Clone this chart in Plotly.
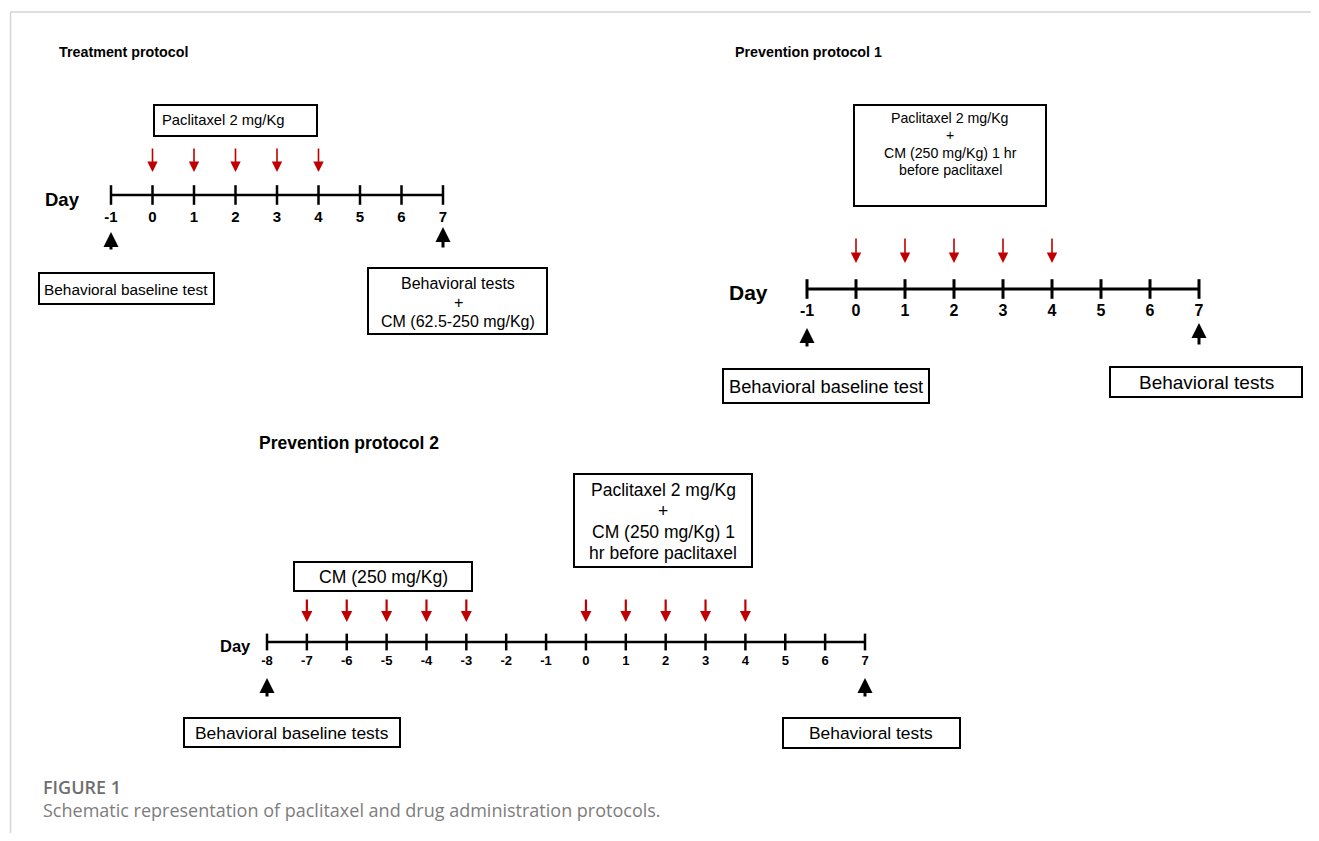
import plotly.graph_objects as go

# page is 1319x841; the html body has an 8px margin, so the figure sits at (8, 8)
PAGE_W, PAGE_H = 1319, 841
OFF = 8
FW, FH = PAGE_W - 2 * OFF, PAGE_H - 2 * OFF

# ---------------- data ----------------
treat_days = [-1, 0, 1, 2, 3, 4, 5, 6, 7]
treat_paclitaxel_days = [0, 1, 2, 3, 4]
treat_test_days = [-1, 7]

prev1_days = [-1, 0, 1, 2, 3, 4, 5, 6, 7]
prev1_paclitaxel_days = [0, 1, 2, 3, 4]
prev1_test_days = [-1, 7]

prev2_days = [-8, -7, -6, -5, -4, -3, -2, -1, 0, 1, 2, 3, 4, 5, 6, 7]
prev2_cm_days = [-7, -6, -5, -4, -3]
prev2_paclitaxel_days = [0, 1, 2, 3, 4]
prev2_test_days = [-8, 7]

titles = ["Treatment protocol", "Prevention protocol 1", "Prevention protocol 2"]
caption_head = "FIGURE 1"
caption_text = "Schematic representation of paclitaxel and drug administration protocols."

FONT = "Liberation Sans, Arial, sans-serif"
RED = "#c00000"

fig = go.Figure()

# panel layout (page-pixel positions of first/last day, timeline row etc.)
panels = [
    dict(ax="x2", days=treat_days, doses=[treat_paclitaxel_days], tests=treat_test_days,
         x0=111, x1=443, ly=195, tick=14, lw=2.5, lab_y=218, lab_size=15,
         red=(147, 172), red_w=1.6, red_s=1.3, up=[(232, 251), (227, 249)], up_w=3,
         day=(43, 199, 18.5)),
    dict(ax="x3", days=prev1_days, doses=[prev1_paclitaxel_days], tests=prev1_test_days,
         x0=807, x1=1199, ly=289, tick=14, lw=3, lab_y=312, lab_size=16,
         red=(237, 263), red_w=1.6, red_s=1.3, up=[(328, 348), (323, 346)], up_w=3,
         day=(727, 292, 21)),
    dict(ax="x4", days=prev2_days, doses=[prev2_cm_days, prev2_paclitaxel_days], tests=prev2_test_days,
         x0=267, x1=865, ly=642, tick=12, lw=2.5, lab_y=662, lab_size=13,
         red=(598, 622), red_w=2.2, red_s=1.0, up=[(678, 698), (678, 698)], up_w=3,
         day=(218, 646, 16.5)),
]

annotations = []
shapes = []
layout_axes = {}

for p in panels:
    days = p["days"]
    s = (p["x1"] - p["x0"]) / (days[-1] - days[0])
    rng = [days[0] - (p["x0"] - OFF) / s, days[0] + (OFF + FW - p["x0"]) / s]
    num = p["ax"][1:]
    layout_axes["xaxis" + num] = dict(range=rng, domain=[0, 1], overlaying="x", anchor="y",
                                      visible=False, fixedrange=True)
    # timeline
    fig.add_trace(go.Scatter(x=[days[0], days[-1]], y=[p["ly"], p["ly"]], xaxis=p["ax"], yaxis="y",
                             mode="lines", line=dict(color="black", width=p["lw"]),
                             hoverinfo="skip", showlegend=False))
    # ticks
    fig.add_trace(go.Scatter(x=days, y=[p["ly"]] * len(days), xaxis=p["ax"], yaxis="y",
                             mode="markers",
                             marker=dict(symbol="line-ns", size=p["tick"],
                                         line=dict(color="black", width=p["lw"])),
                             hoverinfo="skip", showlegend=False))
    # tick labels
    fig.add_trace(go.Scatter(x=days, y=[p["lab_y"]] * len(days), xaxis=p["ax"], yaxis="y",
                             mode="text", text=["<b>%d</b>" % d for d in days],
                             textfont=dict(family=FONT, size=p["lab_size"], color="black"),
                             hoverinfo="skip", showlegend=False))
    # red dosing arrows
    for dose in p["doses"]:
        for d in dose:
            annotations.append(dict(x=d, y=p["red"][1], ax=d, ay=p["red"][0],
                                    xref=p["ax"], yref="y", axref=p["ax"], ayref="y",
                                    text="", showarrow=True, arrowhead=2, arrowsize=p["red_s"],
                                    arrowwidth=p["red_w"], arrowcolor=RED, standoff=0))
    # black test arrows
    for d, (tip, tail) in zip(p["tests"], p["up"]):
        annotations.append(dict(x=d, y=tip, ax=d, ay=tail,
                                xref=p["ax"], yref="y", axref=p["ax"], ayref="y",
                                text="", showarrow=True, arrowhead=2, arrowsize=1.0,
                                arrowwidth=p["up_w"], arrowcolor="black", standoff=0))
    # "Day" label
    dx, dy, dsz = p["day"]
    annotations.append(dict(x=dx, y=dy, xref="x", yref="y", text="<b>Day</b>", showarrow=False,
                            xanchor="left", yanchor="middle",
                            font=dict(family=FONT, size=dsz, color="black")))

# titles
for (tx, ty, tsz), t in zip([(57, 52, 14.3), (733, 52, 14.3), (257, 443, 17.5)], titles):
    annotations.append(dict(x=tx, y=ty, xref="x", yref="y", text="<b>%s</b>" % t, showarrow=False,
                            xanchor="left", yanchor="middle",
                            font=dict(family=FONT, size=tsz, color="black")))

# boxes: (x0, x1, y0, y1, lines, text x, first line y, line step, font size, align)
boxes = [
    (154, 317, 105, 136, ["Paclitaxel 2 mg/Kg"], 160, 120, 0, 14.8, "left"),
    (39, 214, 273, 304, ["Behavioral baseline test"], 126, 289, 0, 15.4, "center"),
    (368, 547, 268, 334, ["Behavioral tests", "+", "CM (62.5-250 mg/Kg)"], 458, 283, 19, 16, "center"),
    (854, 1046, 105, 206, ["Paclitaxel 2 mg/Kg", "+", "CM (250 mg/Kg) 1 hr", "before paclitaxel"],
     950, 118, 17.4, 14.2, "center"),
    (723, 929, 369, 403, ["Behavioral baseline test"], 826, 386, 0, 18.3, "center"),
    (1110, 1302, 367, 397, ["Behavioral tests"], 1206, 382, 0, 19, "center"),
    (294, 472, 562, 591, ["CM (250 mg/Kg)"], 383, 577, 0, 17.6, "center"),
    (574, 752, 474, 567, ["Paclitaxel 2 mg/Kg", "+", "CM (250 mg/Kg) 1", "hr before paclitaxel"],
     663, 490, 21, 17.5, "center"),
    (184, 400, 718, 747, ["Behavioral baseline tests"], 292, 733, 0, 17.4, "center"),
    (783, 960, 718, 748, ["Behavioral tests"], 871, 733, 0, 17.4, "center"),
]
for bx0, bx1, by0, by1, lines, tx, ty, step, fsz, al in boxes:
    shapes.append(dict(type="rect", xref="x", yref="y", x0=bx0, x1=bx1, y0=by0, y1=by1,
                       line=dict(color="black", width=2), fillcolor="rgba(0,0,0,0)"))
    for k, ln in enumerate(lines):
        annotations.append(dict(x=tx, y=ty + k * step, xref="x", yref="y", text=ln, showarrow=False,
                                xanchor="left" if al == "left" else "center", yanchor="middle",
                                font=dict(family=FONT, size=fsz, color="black")))

# frame lines
shapes.append(dict(type="line", xref="x", yref="y", x0=10.5, x1=OFF + FW, y0=12, y1=12,
                   line=dict(color="#d4d4d4", width=1.5)))
shapes.append(dict(type="line", xref="x", yref="y", x0=10.5, x1=10.5, y0=12, y1=OFF + FH,
                   line=dict(color="#d4d4d4", width=1.5)))

# caption
annotations.append(dict(x=41, y=787, xref="x", yref="y", text=caption_head, showarrow=False,
                        xanchor="left", yanchor="middle",
                        font=dict(family="Open Sans, sans-serif", size=18, color="#6e6e6e", weight=600)))
annotations.append(dict(x=41, y=810, xref="x", yref="y", text=caption_text, showarrow=False,
                        xanchor="left", yanchor="middle",
                        font=dict(family="Open Sans, sans-serif", size=18, color="#7d7d7d")))

fig.update_layout(
    width=FW, height=FH, autosize=False,
    margin=dict(l=0, r=0, t=0, b=0),
    paper_bgcolor="white", plot_bgcolor="white",
    xaxis=dict(range=[OFF, OFF + FW], domain=[0, 1], visible=False, fixedrange=True),
    yaxis=dict(range=[OFF + FH, OFF], domain=[0, 1], visible=False, fixedrange=True),
    annotations=annotations, shapes=shapes, showlegend=False,
    **layout_axes,
)

fig.write_html("out.html", config=dict(displayModeBar=False))
